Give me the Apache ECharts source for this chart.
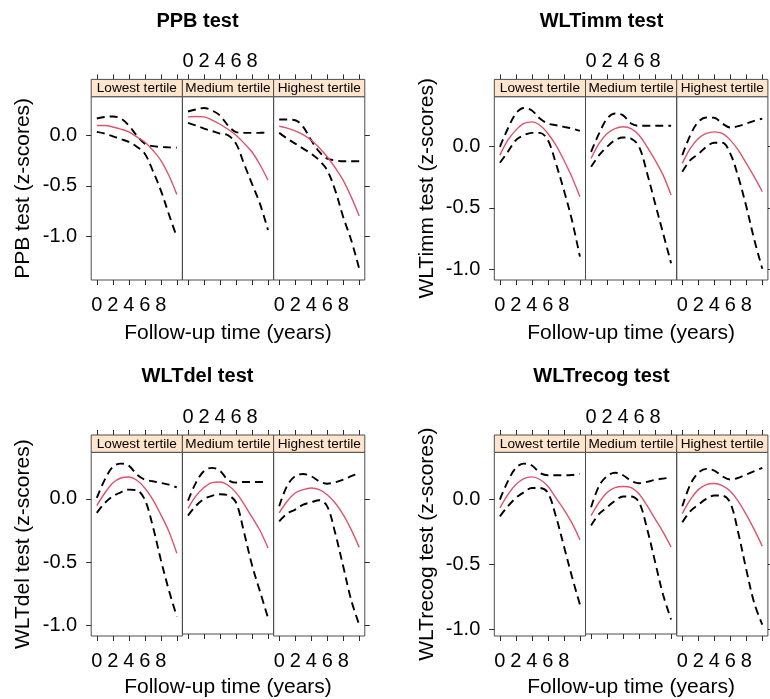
<!DOCTYPE html>
<html><head><meta charset="utf-8">
<script src="https://cdn.jsdelivr.net/npm/echarts@6/dist/echarts.min.js"></script>
<style>html,body{margin:0;padding:0;background:#fff}#main{width:770px;height:699px}</style>
</head><body><div id="main"></div>
<script>
// ---------------- DATA ----------------
const years = [0, 1, 2, 3, 4, 5, 6, 7, 8, 9, 10];
const tertiles = ['Lowest tertile', 'Medium tertile', 'Highest tertile'];
const testNames = ['PPB test', 'WLTimm test', 'WLTdel test', 'WLTrecog test'];
const xTickValues = [0, 2, 4, 6, 8, 10];
const xTickLabels = [0, 2, 4, 6, 8];
const yTickValues = [-1.0, -0.5, 0.0];
const xLabel = 'Follow-up time (years)';

// PPB test
const ppbLowFit   = [0.10, 0.10, 0.086, 0.065, 0.037, -0.013, -0.063, -0.146, -0.246, -0.395, -0.585];
const ppbLowUpper = [0.17, 0.185, 0.19, 0.17, 0.10, 0.0, -0.08, -0.105, -0.113, -0.117, -0.12];
const ppbLowLower = [0.037, 0.02, -0.007, -0.035, -0.063, -0.11, -0.18, -0.35, -0.545, -0.78, -1.01];
const ppbMedFit   = [0.186, 0.19, 0.186, 0.155, 0.113, 0.063, 0.003, -0.075, -0.163, -0.29, -0.445];
const ppbMedUpper = [0.24, 0.26, 0.275, 0.25, 0.20, 0.10, 0.035, 0.027, 0.027, 0.028, 0.03];
const ppbMedLower = [0.126, 0.10, 0.07, 0.045, 0.02, 0.003, -0.08, -0.28, -0.48, -0.68, -0.94];
const ppbHighFit   = [0.093, 0.075, 0.047, 0.01, -0.047, -0.12, -0.21, -0.32, -0.445, -0.61, -0.80];
const ppbHighUpper = [0.16, 0.16, 0.153, 0.086, -0.047, -0.16, -0.23, -0.246, -0.256, -0.256, -0.256];
const ppbHighLower = [0.027, -0.03, -0.08, -0.13, -0.18, -0.246, -0.345, -0.545, -0.81, -1.04, -1.325];

// WLTimm test
const immLowFit   = [-0.073, 0.049, 0.13, 0.184, 0.197, 0.17, 0.103, 0.008, -0.114, -0.25, -0.41];
const immLowUpper = [-0.005, 0.143, 0.265, 0.31, 0.29, 0.224, 0.184, 0.17, 0.157, 0.143, 0.124];
const immLowLower = [-0.135, -0.046, 0.049, 0.089, 0.108, 0.108, 0.049, -0.14, -0.357, -0.6, -0.897];
const immMedFit   = [-0.10, 0.022, 0.103, 0.143, 0.157, 0.143, 0.089, -0.005, -0.114, -0.235, -0.397];
const immMedUpper = [-0.046, 0.103, 0.224, 0.265, 0.25, 0.184, 0.165, 0.165, 0.165, 0.165, 0.165];
const immMedLower = [-0.168, -0.073, -0.005, 0.049, 0.07, 0.062, -0.005, -0.22, -0.465, -0.708, -0.95];
const immHighFit   = [-0.14, -0.019, 0.062, 0.103, 0.116, 0.103, 0.049, -0.032, -0.14, -0.25, -0.37];
const immHighUpper = [-0.073, 0.089, 0.197, 0.232, 0.23, 0.184, 0.151, 0.162, 0.184, 0.205, 0.224];
const immHighLower = [-0.208, -0.114, -0.065, -0.005, 0.027, 0.027, -0.06, -0.25, -0.49, -0.76, -0.995];

// WLTdel test
const delLowFit   = [-0.053, 0.047, 0.127, 0.166, 0.174, 0.148, 0.087, -0.005, -0.124, -0.256, -0.43];
const delLowUpper = [0.008, 0.153, 0.253, 0.28, 0.264, 0.193, 0.153, 0.14, 0.127, 0.113, 0.092];
const delLowLower = [-0.11, -0.032, 0.021, 0.053, 0.074, 0.069, -0.005, -0.216, -0.48, -0.72, -0.93];
const delMedFit   = [-0.08, 0.021, 0.087, 0.127, 0.132, 0.106, 0.047, -0.045, -0.15, -0.256, -0.396];
const delMedUpper = [-0.018, 0.127, 0.22, 0.245, 0.22, 0.148, 0.127, 0.132, 0.132, 0.132, 0.132];
const delMedLower = [-0.137, -0.058, -0.005, 0.021, 0.034, 0.026, -0.032, -0.27, -0.533, -0.744, -0.955];
const delHighFit   = [-0.11, -0.018, 0.047, 0.074, 0.087, 0.074, 0.034, -0.032, -0.124, -0.243, -0.383];
const delHighUpper = [-0.058, 0.106, 0.18, 0.198, 0.18, 0.14, 0.121, 0.132, 0.153, 0.18, 0.206];
const delHighLower = [-0.177, -0.116, -0.084, -0.045, -0.026, -0.01, -0.058, -0.27, -0.533, -0.8, -0.995];

// WLTrecog test
const recLowFit   = [-0.064, 0.039, 0.116, 0.162, 0.175, 0.155, 0.103, 0.013, -0.077, -0.18, -0.31];
const recLowUpper = [0.0, 0.142, 0.245, 0.278, 0.263, 0.206, 0.188, 0.188, 0.188, 0.19, 0.198];
const recLowLower = [-0.129, -0.052, 0.013, 0.057, 0.09, 0.09, 0.052, -0.129, -0.36, -0.593, -0.81];
const recMedFit   = [-0.129, -0.026, 0.052, 0.09, 0.098, 0.09, 0.039, -0.052, -0.155, -0.258, -0.374];
const recMedUpper = [-0.064, 0.103, 0.18, 0.206, 0.186, 0.142, 0.124, 0.134, 0.15, 0.16, 0.168];
const recMedLower = [-0.206, -0.116, -0.064, -0.013, 0.02, 0.02, -0.026, -0.232, -0.49, -0.747, -0.94];
const recHighFit   = [-0.108, 0.0, 0.077, 0.116, 0.124, 0.108, 0.064, -0.013, -0.116, -0.232, -0.36];
const recHighUpper = [-0.052, 0.116, 0.206, 0.237, 0.224, 0.18, 0.155, 0.168, 0.193, 0.219, 0.245];
const recHighLower = [-0.175, -0.09, -0.039, 0.005, 0.031, 0.031, -0.026, -0.258, -0.541, -0.8, -0.966];

// grouping (chart -> tertile -> [upper, fit, lower])
const chartData = [
  [[ppbLowUpper, ppbLowFit, ppbLowLower], [ppbMedUpper, ppbMedFit, ppbMedLower], [ppbHighUpper, ppbHighFit, ppbHighLower]],
  [[immLowUpper, immLowFit, immLowLower], [immMedUpper, immMedFit, immMedLower], [immHighUpper, immHighFit, immHighLower]],
  [[delLowUpper, delLowFit, delLowLower], [delMedUpper, delMedFit, delMedLower], [delHighUpper, delHighFit, delHighLower]],
  [[recLowUpper, recLowFit, recLowLower], [recMedUpper, recMedFit, recMedLower], [recHighUpper, recHighFit, recHighLower]]
];

// ---------------- LAYOUT ----------------
const FONT = '"Liberation Sans", Arial, Helvetica, sans-serif';
const FRAME = '#4d4d4d';
const TICK = '#2a2a2a';
const STRIP_BG = '#FFE5CC';
const FIT_COLOR = '#DF536B';
const PANEL_W = 91.2;
const layouts = [
  { left: 91.2,  stripTop: 79.4,  stripBot: 96.7,  bottom: 280, titleX: 197.5, titleTop: 11 },
  { left: 494.3, stripTop: 79.4,  stripBot: 96.7,  bottom: 280, titleX: 601.5, titleTop: 11 },
  { left: 91.2,  stripTop: 435,   stripBot: 452.3, bottom: 636, titleX: 197.5, titleTop: 366 },
  { left: 494.3, stripTop: 435,   stripBot: 452.3, bottom: 636, titleX: 601.5, titleTop: 366 }
];

function padRange(lo, hi) { const e = (hi - lo) * 0.07; return [lo - e, hi + e]; }
const xRange = padRange(Math.min(...years), Math.max(...years));

const grids = [], xAxes = [], yAxes = [], series = [], titles = [], graphics = [];
const tickStyle = { color: TICK, width: 1 };

chartData.forEach((chart, c) => {
  const L = layouts[c];
  const all = chart.flat(2);
  const yRange = padRange(Math.min(...all), Math.max(...all));
  titles.push({
    text: testNames[c], left: L.titleX, top: L.titleTop, textAlign: 'center', padding: 0,
    textStyle: { fontFamily: FONT, fontSize: 20, fontWeight: 'bold', color: '#000' }
  });
  chart.forEach((panel, p) => {
    const gi = grids.length;
    const gl = L.left + p * PANEL_W;
    grids.push({ left: gl, top: L.stripBot, width: PANEL_W, height: L.bottom - L.stripBot,
      show: true, borderColor: FRAME, borderWidth: 1, backgroundColor: 'transparent' });
    const stripH = L.stripBot - L.stripTop;
    // bottom x axis
    const xb = xAxes.length;
    xAxes.push({
      type: 'value', gridIndex: gi, position: 'bottom', min: xRange[0], max: xRange[1],
      axisLine: { show: false, onZero: false }, splitLine: { show: false },
      axisTick: { show: true, inside: false, length: 5, customValues: xTickValues, lineStyle: tickStyle },
      axisLabel: { show: p !== 1, customValues: xTickLabels, margin: 15, fontSize: 20, fontFamily: FONT, color: '#000' },
      name: p === 1 ? xLabel : '', nameLocation: 'middle', nameGap: 43,
      nameTextStyle: { fontSize: 21, fontFamily: FONT, color: '#000' }
    });
    // top x axis (above strip)
    xAxes.push({
      type: 'value', gridIndex: gi, position: 'top', offset: stripH, min: xRange[0], max: xRange[1],
      axisLine: { show: false, onZero: false }, splitLine: { show: false },
      axisTick: { show: true, inside: false, length: 5, customValues: xTickValues, lineStyle: tickStyle },
      axisLabel: { show: p === 1, customValues: xTickLabels, margin: 8, fontSize: 20, fontFamily: FONT, color: '#000' }
    });
    // left y axis
    const yl = yAxes.length;
    yAxes.push({
      type: 'value', gridIndex: gi, position: 'left', min: yRange[0], max: yRange[1],
      axisLine: { show: false, onZero: false }, splitLine: { show: false },
      axisTick: { show: p === 0, inside: false, length: 5, customValues: yTickValues, lineStyle: tickStyle },
      axisLabel: { show: p === 0, customValues: yTickValues, margin: 14, fontSize: 20, fontFamily: FONT, color: '#000',
        formatter: v => v.toFixed(1) },
      name: p === 0 ? testNames[c] + ' (z-scores)' : '', nameLocation: 'middle', nameGap: 57, nameRotate: 90,
      nameMoveOverlap: false,
      nameTextStyle: { fontSize: 21, fontFamily: FONT, color: '#000' }
    });
    // right y axis
    yAxes.push({
      type: 'value', gridIndex: gi, position: 'right', min: yRange[0], max: yRange[1],
      axisLine: { show: false, onZero: false }, splitLine: { show: false },
      axisTick: { show: p === 2, inside: false, length: 5, customValues: yTickValues, lineStyle: tickStyle },
      axisLabel: { show: false }
    });
    // series
    const styles = [
      { color: '#000', width: 1.9, type: [8, 5] },
      { color: FIT_COLOR, width: 1.4, type: 'solid' },
      { color: '#000', width: 1.9, type: [8, 5] }
    ];
    panel.forEach((arr, k) => {
      series.push({
        type: 'line', xAxisIndex: xb, yAxisIndex: yl, showSymbol: false, symbol: 'none',
        smooth: 0.35, data: years.map((x, i) => [x, arr[i]]),
        lineStyle: styles[k], z: k === 1 ? 3 : 2, silent: true
      });
    });
    // strip
    graphics.push({
      type: 'rect', shape: { x: gl, y: L.stripTop, width: PANEL_W, height: stripH },
      style: { fill: STRIP_BG, stroke: FRAME, lineWidth: 1 }, z: 10
    });
    graphics.push({
      type: 'text', x: gl + PANEL_W / 2, y: L.stripTop + stripH / 2 + 0.5,
      style: { text: tertiles[p], textAlign: 'center', textVerticalAlign: 'middle',
        font: '13.6px ' + FONT, fill: '#000' }, z: 11
    });
  });
});

const chart = echarts.init(document.getElementById('main'), null, { renderer: 'canvas' });
chart.setOption({
  animation: false,
  backgroundColor: '#fff',
  title: titles,
  grid: grids,
  xAxis: xAxes,
  yAxis: yAxes,
  series: series,
  graphic: graphics
});
</script>
</body></html>
